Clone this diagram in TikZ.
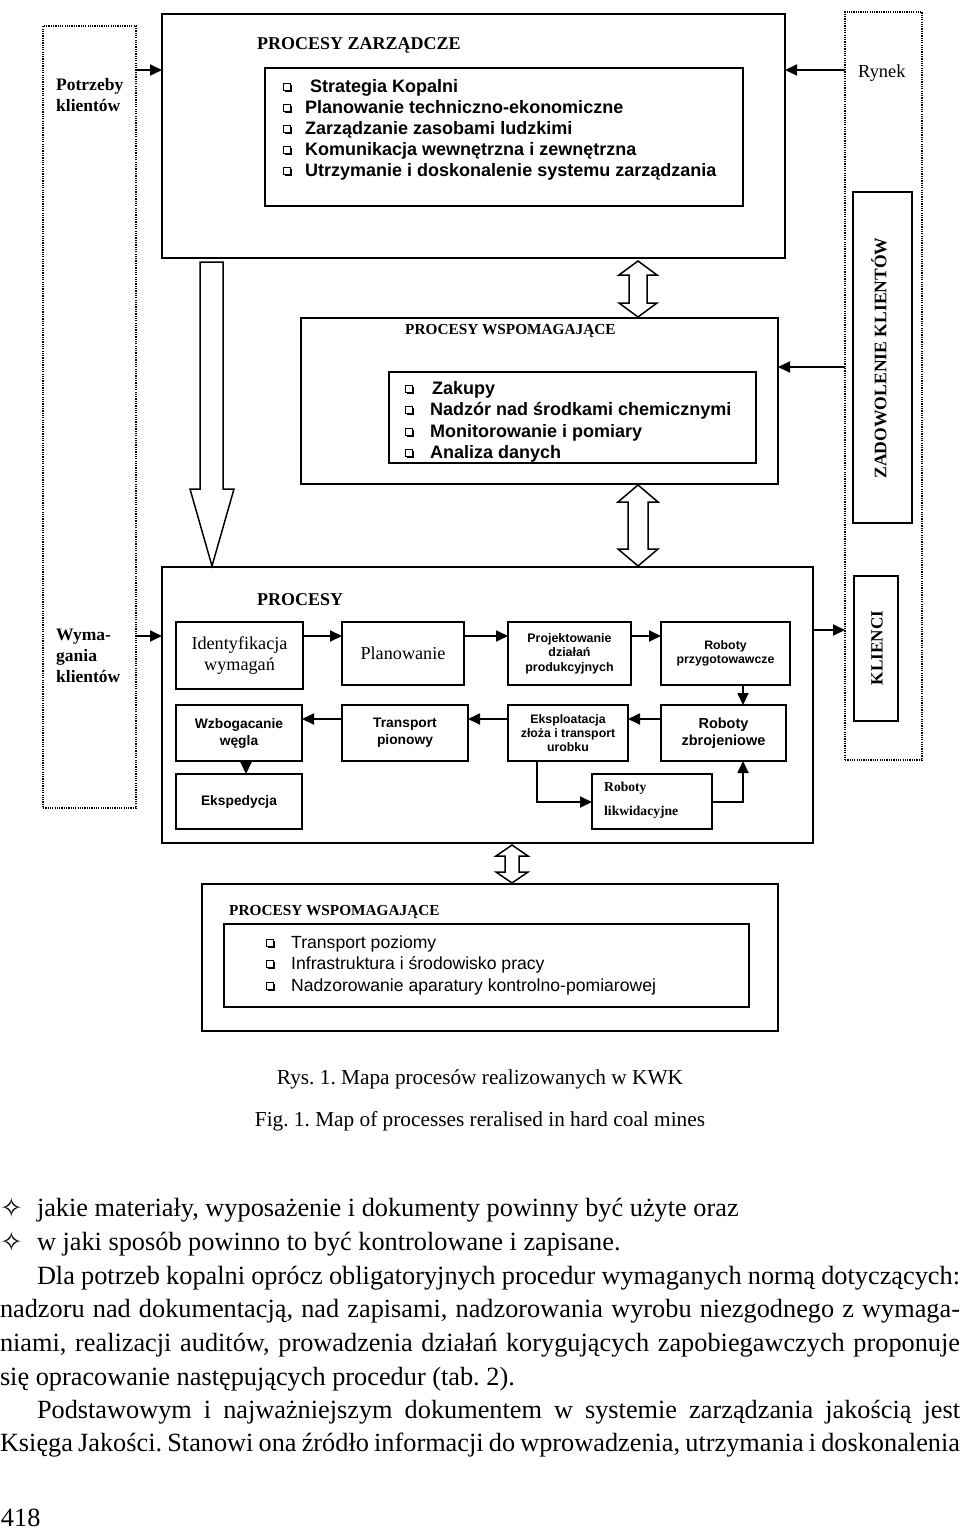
\documentclass[tikz,border=0pt]{standalone}
\usepackage{fontspec}
\setmainfont{Liberation Serif}
\newfontfamily\arialf{Liberation Sans}
\newfontfamily\djvf{DejaVu Sans}
\usetikzlibrary{arrows.meta,shadows}
\frenchspacing
\newcommand\fsz[2]{\fontsize{#1}{#2}\selectfont}
\newcommand\jl[2]{\makebox[#1pt][s]{#2}}
\begin{document}
\begin{tikzpicture}[x=1pt,y=-1pt,
  box/.style={draw,line width=2pt,inner sep=0pt,outer sep=0pt,anchor=north west},
  pbox/.style={box,line width=2.2pt,align=center},
  dotcol/.style={draw,line width=1.4pt,dash pattern=on 1.2pt off 1.1pt,inner sep=0pt,outer sep=0pt,anchor=north west},
  arr/.style={-{Triangle[length=12pt,width=11pt]},line width=1.8pt},
  hollow/.style={draw,line width=1.5pt,fill=white,line join=miter},
  bul/.style={draw,fill=white,line width=0.7pt,minimum size=6.5pt,inner sep=0pt,
    general shadow={shadow xshift=1.3pt,shadow yshift=-1.3pt,fill=black}},
  ttl/.style={font=\bfseries\fsz{18}{21},inner sep=0pt,anchor=west},
  ttls/.style={font=\bfseries\fsz{15.3}{18},inner sep=0pt,anchor=west},
  itemb/.style={font=\arialf\bfseries\fsz{18}{21},inner sep=0pt,anchor=base west},
  itemr/.style={font=\arialf\fsz{17.6}{21},inner sep=0pt,anchor=base west},
  bodyt/.style={font=\fsz{26.3}{30},inner sep=0pt,outer sep=0pt,anchor=base west},
  star/.style={font=\djvf\fsz{27}{30},inner sep=0pt,anchor=base west},
  capt/.style={font=\fsz{21.3}{25},inner sep=0pt,anchor=base},
  side/.style={font=\bfseries\fsz{17.5}{21},inner sep=0pt,anchor=west,align=left}
]
\useasboundingbox[fill=white] (0,0) rectangle (960,1530);

% side columns
\node[dotcol,minimum width=93pt,minimum height=782pt] (leftcol) at (43,26) {};
\node[dotcol,minimum width=77pt,minimum height=748pt] (rightcol) at (845,12) {};
\node[side] (potr) at (56,95) {Potrzeby\\klientów};
\node[side] (wym) at (56,656) {Wyma-\\gania\\klientów};
\node[font=\fsz{18.4}{21},inner sep=0pt,anchor=west] (rynek) at (858,73) {Rynek};
\node[box,line width=2pt,minimum width=59pt,minimum height=331pt] (zad) at (853,192) {};
\node[rotate=90,font=\bfseries\fsz{17.6}{20},inner sep=0pt] (zadl) at (879,358) {ZADOWOLENIE KLIENTÓW};
\node[box,line width=2pt,minimum width=44pt,minimum height=145pt] (kli) at (854,576) {};
\node[rotate=90,font=\bfseries\fsz{17.2}{20},inner sep=0pt] (klil) at (877,648) {KLIENCI};

% top box
\node[box,minimum width=623pt,minimum height=244pt] (top) at (162,14) {};
\node[ttl] (topt) at (257,45) {PROCESY ZARZĄDCZE};
\node[box,minimum width=478pt,minimum height=138pt] (topin) at (265,68) {};
\foreach \yy/\tx/\xx [count=\i] in {86/Strategia Kopalni/310,107/Planowanie techniczno-ekonomiczne/305,128/Zarządzanie zasobami ludzkimi/305,149/Komunikacja wewnętrzna i zewnętrzna/305,170/Utrzymanie i doskonalenie systemu zarządzania/305}{
  \node[bul] (tb\i) at (287,\yy+1) {};
  \node[itemb] (ti\i) at (\xx,\yy+6.5) {\tx};
}

% middle box
\node[box,minimum width=477pt,minimum height=166pt] (mid) at (301,318) {};
\node[ttls] (midt) at (405,331) {PROCESY WSPOMAGAJĄCE};
\node[box,minimum width=367pt,minimum height=91pt] (midin) at (389,372) {};
\begin{scope}
\clip (389,372) rectangle (756,462);
\foreach \yy/\tx/\xx [count=\i] in {388/Zakupy/432,409/Nadzór nad środkami chemicznymi/430,431/Monitorowanie i pomiary/430,452/Analiza danych/430}{
  \node[bul] (mb\i) at (409,\yy+1) {};
  \node[itemb] (mi\i) at (\xx,\yy+6.5) {\tx};
}
\end{scope}

% processes box
\node[box,minimum width=651pt,minimum height=276pt] (proc) at (162,567) {};
\node[ttl] (proct) at (257,600) {PROCESY};
\node[pbox,minimum width=127pt,minimum height=67pt,font=\fsz{18.2}{21}] (ident) at (176,622) {Identyfikacja\\wymagań};
\node[pbox,minimum width=122pt,minimum height=63pt,font=\fsz{18.2}{21}] (plan) at (342,622) {Planowanie};
\node[pbox,minimum width=123pt,minimum height=63pt,font=\arialf\bfseries\fsz{12.4}{14.5}] (proj) at (508,622) {Projektowanie\\działań\\produkcyjnych};
\node[pbox,minimum width=129pt,minimum height=63pt,font=\arialf\bfseries\fsz{12.3}{14.5}] (rprz) at (661,622) {Roboty\\przygotowawcze};
\node[pbox,minimum width=126pt,minimum height=56pt,font=\arialf\bfseries\fsz{13.8}{17}] (wzb) at (176,705) {Wzbogacanie\\węgla};
\node[pbox,minimum width=126pt,minimum height=56pt,font=\arialf\bfseries\fsz{13.8}{17}] (trans) at (342,705) {Transport\\pionowy};
\node[pbox,minimum width=120pt,minimum height=56pt,font=\arialf\bfseries\fsz{12.3}{14}] (eksp) at (508,705) {Eksploatacja\\złoża i transport\\urobku};
\node[pbox,minimum width=125pt,minimum height=56pt,font=\arialf\bfseries\fsz{14.5}{16.5}] (rzbr) at (661,705) {Roboty\\zbrojeniowe};
\node[pbox,minimum width=126pt,minimum height=55pt,font=\arialf\bfseries\fsz{13.8}{17}] (ekspd) at (176,774) {Ekspedycja};
\node[pbox,minimum width=120pt,minimum height=55pt] (rlik) at (592,774) {};
\node[font=\bfseries\fsz{13.6}{24},inner sep=0pt,anchor=west,align=left] (rlikt) at (604,800) {Roboty\\likwidacyjne};

% arrows inside processes
\draw[arr] (ident.east |- 0,636) -- (plan.west |- 0,636);
\draw[arr] (plan.east |- 0,636) -- (proj.west |- 0,636);
\draw[arr] (proj.east |- 0,636) -- (rprz.west |- 0,636);
\draw[arr] (rprz.south -| 743,0) -- (rzbr.north -| 743,0);
\draw[arr] (rzbr.west |- 0,719) -- (eksp.east |- 0,719);
\draw[arr] (eksp.west |- 0,719) -- (trans.east |- 0,719);
\draw[arr] (trans.west |- 0,719) -- (wzb.east |- 0,719);
\draw[arr] (wzb.south -| 246,0) -- (ekspd.north -| 246,0);
\draw[arr] (eksp.south -| 537,0) |- (rlik.west |- 0,802);
\draw[arr] (rlik.east |- 0,802) -| (rzbr.south -| 743,0);

% external arrows
\draw[arr] (leftcol.east |- 0,70) -- (top.west |- 0,70);
\draw[arr] (rightcol.west |- 0,70) -- (top.east |- 0,70);
\draw[arr] (rightcol.west |- 0,367) -- (mid.east |- 0,367);
\draw[arr] (leftcol.east |- 0,636) -- (proc.west |- 0,636);
\draw[arr] (proc.east |- 0,630) -- (rightcol.west |- 0,630);

% bottom box
\node[box,minimum width=576pt,minimum height=147pt] (bot) at (202,884) {};
\node[ttls] (bott) at (229,912) {PROCESY WSPOMAGAJĄCE};
\node[box,minimum width=525pt,minimum height=83pt] (botin) at (224,924) {};
\foreach \yy/\tx [count=\i] in {942/Transport poziomy,963/Infrastruktura i środowisko pracy,985/Nadzorowanie aparatury kontrolno-pomiarowej}{
  \node[bul] (bb\i) at (270,\yy+1) {};
  \node[itemr] (bi\i) at (291,\yy+6.5) {\tx};
}

% hollow arrows
\draw[hollow] (200,262) -- (223,262) -- (223,489) -- (234,489) -- (212,566) -- (190,489) -- (200,489) -- cycle;
\draw[hollow] (638,261) -- (657,275) -- (647,275) -- (647,303) -- (657,303) -- (638,317) -- (619,303) -- (629,303) -- (629,275) -- (619,275) -- cycle;
\draw[hollow] (638,485) -- (658,502) -- (648,502) -- (648,549) -- (658,549) -- (638,566) -- (618,549) -- (628,549) -- (628,502) -- (618,502) -- cycle;
\draw[hollow] (512,845) -- (528,856) -- (519,856) -- (519,872) -- (528,872) -- (512,883) -- (496,872) -- (505,872) -- (505,856) -- (496,856) -- cycle;

% captions
\node[capt] (cap1) at (480,1084) {Rys. 1. Mapa procesów realizowanych w KWK};
\node[capt] (cap2) at (480,1126) {Fig. 1. Map of processes reralised in hard coal mines};

% body text
\node[star] (s1) at (0,1217) {✧};
\node[star] (s2) at (0,1251) {✧};
\node[bodyt] (l1) at (37,1216) {jakie materiały, wyposażenie i dokumenty powinny być użyte oraz};
\node[bodyt] (l2) at (37,1250) {w jaki sposób powinno to być kontrolowane i zapisane.};
\node[bodyt] (l3) at (37,1284) {\jl{923}{Dla potrzeb kopalni oprócz obligatoryjnych procedur wymaganych normą dotyczących:}};
\node[bodyt] (l4) at (0,1317) {\jl{960}{nadzoru nad dokumentacją, nad zapisami, nadzorowania wyrobu niezgodnego z wymaga-}};
\node[bodyt] (l5) at (0,1351) {\jl{960}{niami, realizacji auditów, prowadzenia działań korygujących zapobiegawczych proponuje}};
\node[bodyt] (l6) at (0,1385) {się opracowanie następujących procedur (tab. 2).};
\node[bodyt] (l7) at (37,1418) {\jl{923}{Podstawowym i najważniejszym dokumentem w systemie zarządzania jakością jest}};
\node[bodyt] (l8) at (0,1451) {\jl{960}{Księga Jakości. Stanowi ona źródło informacji do wprowadzenia, utrzymania i doskonalenia}};
\node[bodyt] (pg) at (1,1526) {418};
\end{tikzpicture}
\end{document}
